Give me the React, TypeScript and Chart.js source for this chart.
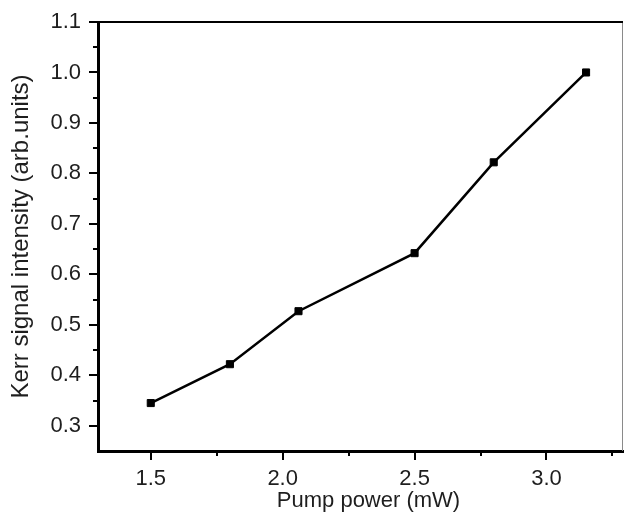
import React, { useEffect, useRef } from "react";
import { Chart, registerables } from "chart.js";

Chart.register(...registerables);

const pumpPower = [1.5, 1.8, 2.06, 2.5, 2.8, 3.15];
const kerrSignal = [0.345, 0.422, 0.527, 0.642, 0.822, 1.0];

const xMajorTicks = [1.5, 2.0, 2.5, 3.0];
const xMinorTicks = [1.75, 2.25, 2.75, 3.25];
const yMajorTicks = [0.3, 0.4, 0.5, 0.6, 0.7, 0.8, 0.9, 1.0, 1.1];
const yMinorTicks = [0.35, 0.45, 0.55, 0.65, 0.75, 0.85, 0.95, 1.05];

const xTitle = "Pump power (mW)";
const yTitle = "Kerr signal intensity (arb.units)";

const FONT = "'Liberation Sans', Arial, sans-serif";
const TEXT = "#1e1e1e";

const framePlugin = {
  id: "frame",
  afterDraw(chart: any) {
    const { ctx, chartArea, scales } = chart;
    const { left, right, top, bottom } = chartArea;
    const x = scales.x;
    const y = scales.y;
    ctx.save();
    ctx.strokeStyle = "#8a8a8a";
    ctx.lineWidth = 1;
    ctx.beginPath();
    ctx.moveTo(right - 0.5, top);
    ctx.lineTo(right - 0.5, bottom);
    ctx.stroke();
    ctx.strokeStyle = "#000";
    ctx.lineWidth = 2;
    ctx.beginPath();
    ctx.moveTo(left - 1.5, top);
    ctx.lineTo(right, top);
    ctx.stroke();
    ctx.lineWidth = 2;
    ctx.strokeStyle = "#000";
    const drawX = (vals: number[], len: number) => {
      vals.forEach((v) => {
        const px = Math.round(x.getPixelForValue(v));
        if (px < left - 1 || px > right + 1) return;
        ctx.beginPath();
        ctx.moveTo(px, bottom);
        ctx.lineTo(px, bottom + len);
        ctx.stroke();
      });
    };
    const drawY = (vals: number[], len: number) => {
      vals.forEach((v) => {
        const py = Math.round(y.getPixelForValue(v));
        if (py < top - 1 || py > bottom + 1) return;
        ctx.beginPath();
        ctx.moveTo(left, py);
        ctx.lineTo(left - len, py);
        ctx.stroke();
      });
    };
    drawX(xMajorTicks, 9);
    drawX(xMinorTicks, 5);
    drawY(yMajorTicks, 9);
    drawY(yMinorTicks, 5);
    ctx.fillStyle = TEXT;
    ctx.font = `22px ${FONT}`;
    ctx.textAlign = "center";
    ctx.textBaseline = "alphabetic";
    ctx.fillText(xTitle, (left + right) / 2 + 8, bottom + 56);
    ctx.restore();
  },
};

export default function App() {
  const ref = useRef<HTMLCanvasElement | null>(null);

  useEffect(() => {
    if (!ref.current) return;
    const chart = new Chart(ref.current, {
      type: "line",
      data: {
        datasets: [
          {
            data: pumpPower.map((p, i) => ({ x: p, y: kerrSignal[i] })),
            borderColor: "#000",
            backgroundColor: "#000",
            borderWidth: 2.5,
            pointStyle: "rect",
            pointRadius: 5,
            pointBorderWidth: 1,
            pointBackgroundColor: "#000",
            pointBorderColor: "#000",
            tension: 0,
          },
        ],
      },
      options: {
        animation: false,
        responsive: false,
        maintainAspectRatio: false,
        layout: { autoPadding: false, padding: { left: 0, right: 1, top: 22, bottom: 0 } },
        plugins: {
          legend: { display: false },
          tooltip: { enabled: false },
        },
        scales: {
          x: {
            type: "linear",
            min: 1.3,
            max: 3.29,
            afterFit: (s: any) => {
              s.height = 66;
              s.paddingLeft = 0;
              s.paddingRight = 0;
            },
            afterBuildTicks: (s: any) => {
              s.ticks = xMajorTicks.map((v) => ({ value: v }));
            },
            grid: {
              drawOnChartArea: false,
              color: "transparent",
              tickLength: 9,
            },
            border: { display: true, color: "#000", width: 3 },
            ticks: {
              padding: 6,
              color: TEXT,
              font: { family: FONT, size: 22 },
              callback: (v: any) => Number(v).toFixed(1),
              maxRotation: 0,
            },
            title: { display: false, text: xTitle },
          },
          y: {
            type: "linear",
            min: 0.25,
            max: 1.1,
            afterFit: (s: any) => {
              s.width = 98;
              s.paddingTop = 0;
              s.paddingBottom = 0;
            },
            afterBuildTicks: (s: any) => {
              s.ticks = yMajorTicks.map((v) => ({ value: v }));
            },
            grid: {
              drawOnChartArea: false,
              color: "transparent",
              tickLength: 9,
            },
            border: { display: true, color: "#000", width: 3 },
            ticks: {
              padding: 8,
              color: TEXT,
              font: { family: FONT, size: 22 },
              callback: (v: any) => Number(v).toFixed(1),
            },
            title: {
              display: true,
              text: yTitle,
              color: TEXT,
              font: { family: FONT, size: 24 },
              padding: { top: 7, bottom: 0 },
            },
          },
        },
      },
      plugins: [framePlugin],
    });
    return () => chart.destroy();
  }, []);

  return (
    <div style={{ position: "absolute", left: 0, top: 0, width: 624, height: 517, background: "#fff" }}>
      <canvas ref={ref} width={624} height={517} style={{ width: 624, height: 517, display: "block" }} />
    </div>
  );
}
